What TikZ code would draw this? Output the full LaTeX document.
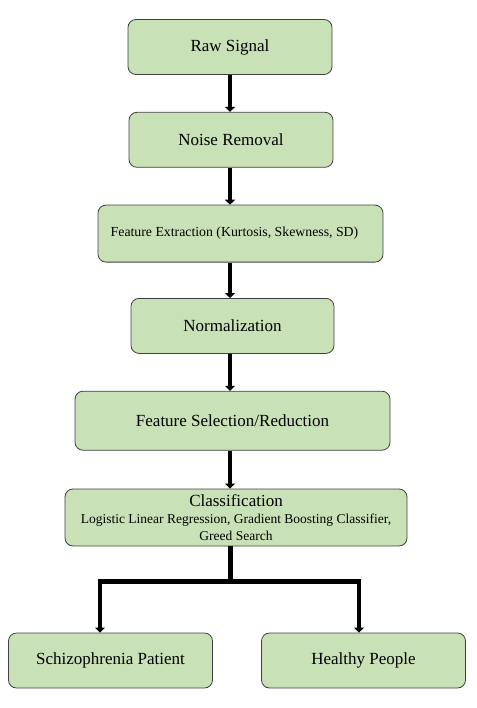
\documentclass[tikz,border=0pt]{standalone}
\usepackage{fontspec}
\setmainfont{Liberation Serif}
\usetikzlibrary{arrows.meta,positioning,calc}
\definecolor{boxgreen}{HTML}{C9E1B6}
\definecolor{boxedge}{HTML}{404040}
\tikzset{
  stepbox/.style={
    rounded corners=8pt,
    draw=boxedge,
    fill=boxgreen,
    line width=0.8pt,
    minimum width=204pt,
    minimum height=55pt,
    align=center,
    font=\fontsize{17}{19}\selectfont
  },
  arrow/.style={
    -{Triangle[length=5pt,width=10pt]},
    line width=4.5pt,
    draw=black
  },
  flowline/.style={
    line width=4.5pt,
    draw=black
  }
}
\begin{document}
\begin{tikzpicture}[node distance=37pt]
\useasboundingbox (0,0) rectangle (476pt,-708pt);
\node[stepbox] (raw) at (230pt,-47pt) {Raw Signal};
\node[stepbox, below=of raw, xshift=1pt] (noise) {Noise Removal};
\node[stepbox, below=of noise, xshift=9.5pt, minimum width=285pt, minimum height=57pt,
  font=\fontsize{13.8}{16}\selectfont] (feat) {Feature Extraction (Kurtosis, Skewness, SD)\hspace{12pt}};
\node[stepbox, below=35.5pt of feat, xshift=-8pt, minimum width=203pt] (norm) {Normalization};
\node[stepbox, below=of norm, minimum width=315pt, minimum height=59pt] (select) {Feature Selection/Reduction};
\node[stepbox, below=38pt of select, xshift=3.5pt, minimum width=342pt, minimum height=57pt,
  inner sep=2pt, font=\fontsize{13.5}{17}\selectfont] (class)
  {{\fontsize{17}{18}\selectfont Classification}\\Logistic Linear Regression, Gradient Boosting Classifier,\\Greed Search};
\node[stepbox] (schizo) at (110.5pt,-660.5pt) {Schizophrenia Patient};
\node[stepbox] (healthy) at (363.5pt,-660.5pt) {Healthy People};
% vertical chain
\draw[arrow] (raw.south) -- (raw.south |- noise.north);
\draw[arrow] (noise.south -| raw.south) -- (raw.south |- feat.north);
\draw[arrow] (feat.south -| raw.south) -- (raw.south |- norm.north);
\draw[arrow] (norm.south -| raw.south) -- (raw.south |- select.north);
\draw[arrow] (select.south -| raw.south) -- (raw.south |- class.north);
% split to outcomes
\draw[flowline, line width=5pt] (class.south -| raw.south) -- ++(0,-35pt) coordinate (split);
\draw[arrow, line join=miter] (split) -| ($(schizo.north)+(-10.5pt,0)$);
\draw[arrow, line join=miter] (split) -| ($(healthy.north)+(-4.5pt,0)$);
\end{tikzpicture}
\end{document}
